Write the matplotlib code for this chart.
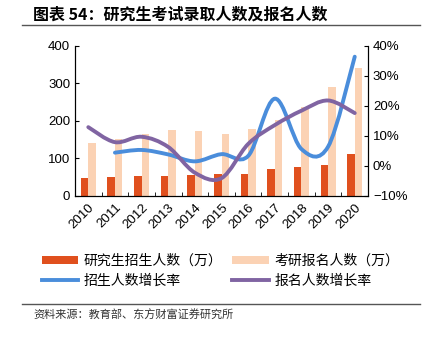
import numpy as np
import matplotlib.pyplot as plt
from matplotlib.path import Path
from matplotlib.patches import PathPatch
from matplotlib.ticker import FuncFormatter

plt.rcParams['font.family'] = ['Noto Sans CJK SC', 'DejaVu Sans']

years = ['2010', '2011', '2012', '2013', '2014', '2015', '2016', '2017', '2018', '2019', '2020']
recruit = [47.4, 49.5, 52.1, 54.1, 54.9, 57.1, 59.0, 72.2, 76.3, 81.1, 110.7]
apply_n = [140, 151, 165.6, 176, 172, 164.9, 177, 201, 238, 290, 341]
recruit_growth = [None, 4.4, 5.3, 3.8, 1.5, 3.9, 3.3, 22.4, 5.6, 6.4, 36.4]
apply_growth = [12.9, 7.9, 9.7, 6.3, -2.3, -4.1, 7.3, 13.6, 18.4, 21.8, 17.6]

c_rec = '#E0501E'
c_app = '#FBD2B4'
c_blue = '#4A8DDB'
c_purple = '#8064A2'


def smooth_path(xs, ys):
    # Excel-style smoothed line as cubic bezier segments
    verts = [(xs[0], ys[0])]
    codes = [Path.MOVETO]
    n = len(xs)
    for i in range(n - 1):
        p0 = (xs[max(i - 1, 0)], ys[max(i - 1, 0)])
        p1 = (xs[i], ys[i])
        p2 = (xs[i + 1], ys[i + 1])
        p3 = (xs[min(i + 2, n - 1)], ys[min(i + 2, n - 1)])
        c1 = (p1[0] + (p2[0] - p0[0]) / 6, p1[1] + (p2[1] - p0[1]) / 6)
        c2 = (p2[0] - (p3[0] - p1[0]) / 6, p2[1] - (p3[1] - p1[1]) / 6)
        verts += [c1, c2, p2]
        codes += [Path.CURVE4] * 3
    return Path(verts, codes)


fig = plt.figure(figsize=(4.26, 3.40), dpi=100)
ax = fig.add_axes([0.176, 0.424, 0.688, 0.441])
x = np.arange(len(years))
w = 0.28
b1 = ax.bar(x - w / 2, recruit, w, color=c_rec, label='研究生招生人数（万）')
b2 = ax.bar(x + w / 2, apply_n, w, color=c_app, label='考研报名人数（万）')
ax.set_xlim(-0.5, len(years) - 0.5)
ax.set_ylim(0, 400)
ax.set_yticks([0, 100, 200, 300, 400])
ax.set_xticks(x)
ax.set_xticklabels(years, rotation=45, ha='right', rotation_mode='anchor',
                   family='Liberation Sans', fontsize=9.5)
ax.set_xticks(np.arange(-0.5, len(years), 1), minor=True)
ax.tick_params(axis='x', which='major', length=0, pad=4)
ax.tick_params(axis='x', which='minor', length=3, direction='in')
ax.tick_params(axis='y', direction='in', length=3, labelsize=9.5)
for lab in ax.get_yticklabels():
    lab.set_family('Liberation Sans')
ax.spines['top'].set_visible(False)

ax2 = ax.twinx()
ax2.set_ylim(-10, 40)
ax2.set_yticks([-10, 0, 10, 20, 30, 40])
ax2.yaxis.set_major_formatter(FuncFormatter(lambda v, p: f'{v:.0f}%'.replace('-', '\u2212')))
ax2.tick_params(axis='y', direction='in', length=3, labelsize=9.5)
for lab in ax2.get_yticklabels():
    lab.set_family('Liberation Sans')
ax2.spines['top'].set_visible(False)

rx = [i for i, v in zip(x, recruit_growth) if v is not None]
ry = [v for v in recruit_growth if v is not None]
ax2.add_patch(PathPatch(smooth_path(rx, ry), fill=False, edgecolor=c_blue, lw=2.8, capstyle='round'))
ax2.add_patch(PathPatch(smooth_path(list(x), apply_growth), fill=False, edgecolor=c_purple, lw=2.8, capstyle='round'))
l1, = ax2.plot([], [], color=c_blue, lw=2.8, label='招生人数增长率')
l2, = ax2.plot([], [], color=c_purple, lw=2.8, label='报名人数增长率')

fig.legend([b1, l1, b2, l2], [b1.get_label(), l1.get_label(), b2.get_label(), l2.get_label()],
           loc='upper left', bbox_to_anchor=(0.07, 0.29), ncol=2,
           frameon=False, fontsize=10, handlelength=2.6, handleheight=0.6,
           columnspacing=0.7, labelspacing=0.45, handletextpad=0.4)

fig.text(0.078, 0.958, '图表 54：研究生考试录取人数及报名人数', fontsize=11.5,
         fontweight='bold', va='center')
fig.add_artist(plt.Line2D([0.052, 0.986], [0.927, 0.927], color='#555555', lw=1))
fig.add_artist(plt.Line2D([0.052, 0.986], [0.106, 0.106], color='#555555', lw=1))
fig.text(0.078, 0.073, '资料来源：教育部、东方财富证券研究所', fontsize=8, va='center', color='#333333')

fig.savefig('out.png', dpi=100)
